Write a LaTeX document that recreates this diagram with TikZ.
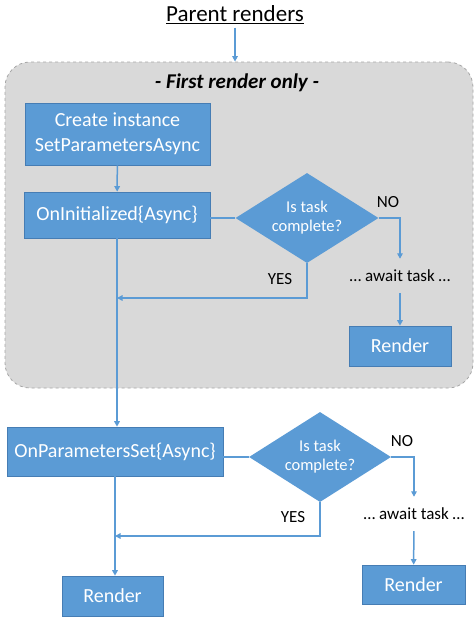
\documentclass[tikz,border=0pt]{standalone}
\usepackage{fontspec}
\setmainfont{Carlito}
\usepackage{tikz}
\usetikzlibrary{positioning}
\usetikzlibrary{arrows.meta}
\usetikzlibrary{shapes.geometric}
\definecolor{boxblue}{RGB}{91,155,213}
\definecolor{boxedge}{RGB}{70,125,180}
\definecolor{areagray}{RGB}{217,217,217}
\tikzset{stepbox/.style={ % Sets the properties for each blue box
			rectangle,
			draw=boxedge,
			fill=boxblue,
			text=white,
			line width=0.6pt,
			inner sep=0pt,
			align=center,
			font=\fontsize{20}{25}\selectfont},
		decision/.style={ % the "Is task complete?" diamonds
			diamond,
			fill=boxblue,
			text=white,
			aspect=1.6,
			inner sep=0pt,
			align=center,
			font=\fontsize{16.5}{19}\selectfont},
		flow/.style={
			draw=boxblue,
			line width=1.5pt,
			-{Triangle[length=5.5pt,width=5.5pt]}},
		link/.style={draw=boxblue, line width=1.5pt},
		answer/.style={font=\fontsize{17}{20}\selectfont}}
\begin{document}
\begin{tikzpicture}[x=1pt, y=-1pt]
			\useasboundingbox (0,0) rectangle (475,619);
			\node[rectangle, rounded corners=25pt, fill=areagray, draw=gray!70, dashed, line width=0.8pt, minimum width=468pt, minimum height=326pt] (first) at (239,225) {};
			\node[font=\fontsize{23}{27}\selectfont] (parent) at (235,15) {\underline{Parent renders}};
			\node[font=\fontsize{21}{25}\selectfont\bfseries\itshape] (only) at (237,83) {- First render only -};
			
			% first render
			\node[stepbox, minimum width=185pt, minimum height=62pt] (create) at (117.5,134) {Create instance\\SetParametersAsync};
			\node[stepbox, minimum width=186pt, minimum height=46pt] (oninit) at (117,215) {OnInitialized\{Async\}};
			\node[decision, minimum width=143pt, minimum height=90pt] (dec1) at (307,218) {Is task\\complete?};
			\node[answer] (no1) at (388,202) {NO};
			\node[answer] (yes1) at (280,279) {YES};
			\node[answer, inner sep=0pt, minimum height=34pt] (await1) at (400,276) {… await task …};
			\node[stepbox, minimum width=102pt, minimum height=40pt] (render1) at (400,346) {Render};
			\coordinate (join1) at (117,298);
			
			% every render
			\node[stepbox, minimum width=216pt, minimum height=49pt] (onparam) at (115,451.5) {OnParametersSet\{Async\}};
			\node[decision, minimum width=142pt, minimum height=90pt] (dec2) at (320,457) {Is task\\complete?};
			\node[answer] (no2) at (402,441) {NO};
			\node[answer] (yes2) at (293,517) {YES};
			\node[answer, inner sep=0pt, minimum height=34pt] (await2) at (414,514) {… await task …};
			\node[stepbox, minimum width=103pt, minimum height=39pt] (render2) at (413.5,584.5) {Render};
			\node[stepbox, minimum width=101pt, minimum height=40pt] (render3) at (112.5,596) {Render};
			\coordinate (join2) at (115,536);
			
			\draw[flow] (parent.south) -- (parent.south |- first.north);
			\draw[flow] (create) -- (oninit);
			\draw[link] (oninit.east |- dec1.west) -- (dec1.west);
			\draw[flow] (dec1.east) -| (await1.north);
			\draw[flow] (await1) -- (render1);
			\draw[flow] (dec1.south) |- (join1);
			\draw[flow] (oninit.south) -- (oninit.south |- onparam.north);
			\draw[link] (onparam.east |- dec2.west) -- (dec2.west);
			\draw[flow] (dec2.east) -| (await2.north);
			\draw[flow] (await2) -- (render2);
			\draw[flow] (dec2.south) |- (join2);
			\draw[flow] (onparam.south) -- (onparam.south |- render3.north);
		\end{tikzpicture}
\end{document}
